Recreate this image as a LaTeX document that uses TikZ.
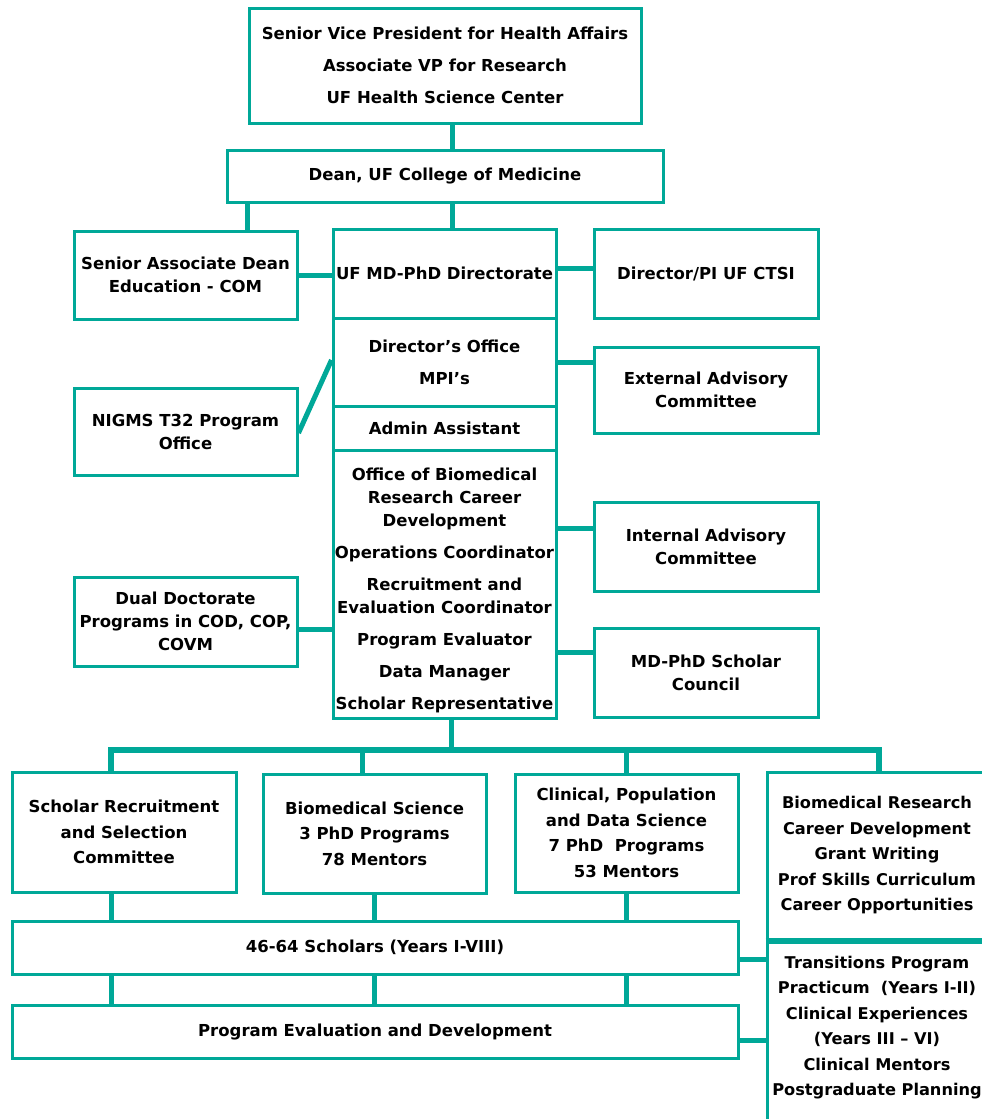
\documentclass[tikz,border=0pt]{standalone}
\usepackage{fontspec}
\setmainfont{DejaVu Sans}
\definecolor{teal1}{RGB}{0,168,152}
\tikzset{
  box/.style={draw=teal1, line width=3pt, rectangle, align=center, inner sep=0pt,
    font=\bfseries\fontsize{16.5}{23}\selectfont},
  lbox/.style={box, font=\bfseries\fontsize{16.5}{25.5}\selectfont},
  rbox/.style={box, font=\bfseries\fontsize{16.2}{25.5}\selectfont},
  conn/.style={draw=teal1, line width=5pt},
  bar/.style={draw=teal1, line width=6pt},
}
\begin{document}
\begin{tikzpicture}[x=1pt,y=-1pt]
\useasboundingbox (0,0) rectangle (982,1119);
\clip (0,0) rectangle (982,1119);
% upper part
\node[box, minimum width=392pt, minimum height=115pt, text depth=-4pt] (top) at (445,65.5)
  {Senior Vice President for Health Affairs\\[9pt]Associate VP for Research\\[9pt]UF Health Science Center};
\node[box, minimum width=436pt, minimum height=52pt] (dean) at (445,176) {Dean, UF College of Medicine};
\node[box, minimum width=223pt, minimum height=88pt] (sad) at (185.5,275) {Senior Associate Dean\\Education - COM};
\node[box, minimum width=223pt, minimum height=89pt] (dir) at (444.5,273.5) {UF MD-PhD Directorate};
\node[box, minimum width=224pt, minimum height=89pt] (ctsi) at (706,273.5) {Director/PI UF CTSI};
\node[box, minimum width=223pt, minimum height=88pt] (dof) at (444.5,362) {Director’s Office\\[9pt]MPI’s};
\node[box, minimum width=223pt, minimum height=44pt] (adm) at (444.5,428) {Admin Assistant};
\node[box, minimum width=223pt, minimum height=268pt, text height=255pt] (obr) at (444.5,584)
  {Office of Biomedical\\Research Career\\Development\\[9pt]Operations Coordinator\\[9pt]Recruitment and\\Evaluation Coordinator\\[9pt]Program Evaluator\\[9pt]Data Manager\\[9pt]Scholar Representative};
\node[box, minimum width=224pt, minimum height=86pt] (ext) at (706,390) {External Advisory\\Committee};
\node[box, minimum width=223pt, minimum height=87pt] (nig) at (185.5,431.5) {NIGMS T32 Program\\Office};
\node[box, minimum width=224pt, minimum height=89pt] (iac) at (706,546.5) {Internal Advisory\\Committee};
\node[box, minimum width=223pt, minimum height=89pt] (dual) at (185.5,621.5) {Dual Doctorate\\Programs in COD, COP,\\COVM};
\node[box, minimum width=224pt, minimum height=89pt] (msc) at (706,672.5) {MD-PhD Scholar\\Council};
% lower part
\node[lbox, minimum width=224pt, minimum height=120pt] (srec) at (124,832) {Scholar Recruitment\\and Selection\\Committee};
\node[lbox, minimum width=223pt, minimum height=119pt] (bms) at (374.5,833.5) {Biomedical Science\\3 PhD Programs\\78 Mentors};
\node[lbox, minimum width=223pt, minimum height=118pt] (cps) at (626.5,833) {Clinical, Population\\and Data Science\\7 PhD\ \ Programs\\53 Mentors};
\node[rbox, minimum width=220pt, minimum height=167pt] (brc) at (877,855.5)
  {Biomedical Research\\Career Development\\Grant Writing\\Prof Skills Curriculum\\Career Opportunities};
\node[rbox, minimum width=220pt, minimum height=186pt, text depth=12pt] (trn) at (877,1032)
  {Transitions Program\\Practicum\ \ (Years I-II)\\Clinical Experiences\\(Years III – VI)\\Clinical Mentors\\Postgraduate Planning};
\node[box, minimum width=726pt, minimum height=53pt] (sch) at (375,947.5) {46-64 Scholars (Years I-VIII)};
\node[box, minimum width=726pt, minimum height=53pt] (ped) at (375,1031.5) {Program Evaluation and Development};
% connectors
\draw[conn] ([xshift=7pt]top.south) -- ([xshift=7pt]dean.north);
\draw[conn] ([xshift=22pt]dean.south west) -- ([xshift=22pt]dean.south west |- sad.north);
\draw[conn] ([xshift=7.5pt]dean.south) -- ([xshift=7.5pt]dean.south |- dir.north);
\draw[conn] (sad.east) -- (sad.east -| dir.west);
\draw[conn] ([yshift=5.5pt]dir.east) -- ([yshift=5.5pt]dir.east -| ctsi.west);
\draw[conn] (dof.east) -- (dof.east -| ext.west);
\draw[conn] ([yshift=-1.5pt]nig.east) -- ([yshift=2pt]dof.west);
\draw[conn] ([yshift=18.5pt]iac.west) -- ([yshift=18.5pt]iac.west -| obr.east);
\draw[conn] ([yshift=-7.5pt]dual.east) -- ([yshift=-7.5pt]dual.east -| obr.west);
\draw[conn] ([yshift=20.5pt]msc.west) -- ([yshift=20.5pt]msc.west -| obr.east);
\draw[conn] ([xshift=6.5pt]obr.south) -- ++(0,30) coordinate (bus);
\draw[bar] ([xshift=-13pt]srec.north) |- (bus) -| ([xshift=1.5pt]brc.north);
\draw[conn] ([xshift=-12.5pt]bms.north) -- ([xshift=-12.5pt]bms.north |- bus);
\draw[conn] (cps.north) -- (cps.north |- bus);
\draw[conn] ([xshift=-13pt]srec.south) -- ([xshift=-13pt]srec.south |- sch.north);
\draw[conn] (bms.south) -- (bms.south |- sch.north);
\draw[conn] (cps.south) -- (cps.south |- sch.north);
\draw[conn] ([xshift=-13pt]srec.south |- sch.south) -- ([xshift=-13pt]srec.south |- ped.north);
\draw[conn] (bms.south |- sch.south) -- (bms.south |- ped.north);
\draw[conn] (cps.south |- sch.south) -- (cps.south |- ped.north);
\draw[conn] ([yshift=-11.5pt]sch.east) -- ([yshift=-11.5pt]sch.east -| trn.west);
\draw[conn] ([yshift=-8.5pt]ped.east) -- ([yshift=-8.5pt]ped.east -| trn.west);
\draw[bar] (brc.south west) -- (brc.south east);
\end{tikzpicture}
\end{document}
